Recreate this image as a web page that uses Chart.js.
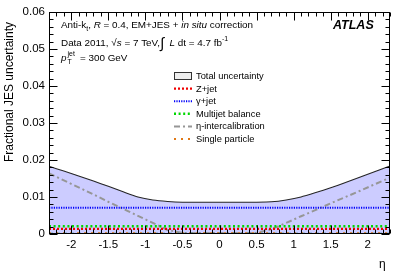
<!DOCTYPE html>
<html>
<head>
<meta charset="utf-8">
<script src="https://cdn.jsdelivr.net/npm/chart.js@4.4.1/dist/chart.umd.min.js"></script>
<style>
html,body{margin:0;padding:0;background:#fff;}
canvas{display:block;}
</style>
</head>
<body>
<canvas id="c" width="407" height="276"></canvas>
<script>
// ---- data ----
const etaGrid = [-2.3,-2.1,-1.9,-1.7,-1.5,-1.3,-1.1,-0.9,-0.7,-0.5,-0.3,-0.1,0.1,0.3,0.5,0.7,0.9,1.1,1.3,1.5,1.7,1.9,2.1,2.3];
const totalUnc = [0.0183,0.0170,0.0157,0.0143,0.0129,0.0114,0.0100,0.0092,0.0088,0.0086,0.0086,0.0086,0.0086,0.0086,0.0086,0.0087,0.0092,0.0100,0.0112,0.0125,0.0139,0.0154,0.0169,0.0184];
const zJet = [0.0014,0.0014,0.0014,0.0014,0.0014,0.0014,0.0014,0.0014,0.0014,0.0014,0.0014,0.0014,0.0014,0.0014,0.0014,0.0014,0.0014,0.0014,0.0014,0.0014,0.0014,0.0014,0.0014,0.0014];
const gammaJet = [0.0071,0.0071,0.0071,0.0071,0.0071,0.0071,0.0071,0.0071,0.0071,0.0071,0.0071,0.0071,0.0071,0.0071,0.0071,0.0071,0.0071,0.0071,0.0071,0.0071,0.0071,0.0071,0.0071,0.0071];
const multijet = [0.0021,0.0021,0.0021,0.0021,0.0021,0.0021,0.0021,0.0021,0.0021,0.0021,0.0021,0.0021,0.0021,0.0021,0.0021,0.0021,0.0021,0.0021,0.0021,0.0021,0.0021,0.0021,0.0021,0.0021];
const etaIntercal = [0.0164,0.0145,0.0126,0.0107,0.0087,0.0068,0.0049,0.0030,0.0011,0.0003,0.0003,0.0003,0.0003,0.0003,0.0003,0.0013,0.0030,0.0048,0.0065,0.0083,0.0100,0.0117,0.0135,0.0152];
const singleParticle = [0.0002,0.0002,0.0002,0.0002,0.0002,0.0002,0.0002,0.0002,0.0002,0.0002,0.0002,0.0002,0.0002,0.0002,0.0002,0.0002,0.0002,0.0002,0.0002,0.0002,0.0002,0.0002,0.0002,0.0002];
const otherTerm = [0.00005,0.00005,0.00005,0.00005,0.00005,0.00005,0.00005,0.00005,0.00005,0.00005,0.00005,0.00005,0.00005,0.00005,0.00005,0.00005,0.00005,0.00005,0.00005,0.00005,0.00005,0.00005,0.00005,0.00005];
const xTickVals = [-2,-1.5,-1,-0.5,0,0.5,1,1.5,2];
const xTickLabels = ["-2","-1.5","-1","-0.5","0","0.5","1","1.5","2"];
const yTickVals = [0,0.01,0.02,0.03,0.04,0.05,0.06];
const yTickLabels = ["0","0.01","0.02","0.03","0.04","0.05","0.06"];
const legendLabels = ["Total uncertainty","Z+jet","\u03b3+jet","Multijet balance","\u03b7-intercalibration","Single particle"];

const FONT = "'Liberation Sans', Arial, Helvetica, sans-serif";
const pts = arr => etaGrid.map((x,i)=>({x:x, y:arr[i]}));

const datasets = [
  {label:legendLabels[0], data:pts(totalUnc), borderColor:'#262626', borderWidth:1.1, backgroundColor:'rgb(204,204,255)', fill:'origin', order:10, tension:0.2, legendBox:true},
  {label:legendLabels[1], data:pts(zJet), borderColor:'rgb(240,0,0)', borderWidth:2.2, borderDash:[2,2], fill:false, order:4},
  {label:legendLabels[2], data:pts(gammaJet), borderColor:'rgb(0,0,250)', borderWidth:1.9, borderDash:[1.2,1.2], fill:false, order:5},
  {label:legendLabels[3], data:pts(multijet), borderColor:'rgb(0,215,0)', borderWidth:2.6, borderDash:[2,2.6], fill:false, order:3},
  {label:legendLabels[4], data:pts(etaIntercal), borderColor:'rgb(150,150,150)', borderWidth:2, borderDash:[6,3,2,3], fill:false, order:6},
  {label:legendLabels[5], data:pts(singleParticle), borderColor:'rgb(225,120,20)', borderWidth:2.2, borderDash:[2,5], fill:false, order:1},
  {label:'', data:pts(otherTerm), borderColor:'rgb(20,130,130)', borderWidth:2.2, borderDash:[4,3], fill:false, order:2, noLegend:true}
];

function drawRich(ctx, x, y, segs, baseSize){
  let cx = x;
  for (const s of segs){
    const size = (s.scale||1)*baseSize;
    ctx.font = (s.style||'') + ' ' + size + 'px ' + FONT;
    const dy = (s.dy||0);
    const px = cx + (s.dx||0);
    ctx.fillText(s.t, px, y + dy);
    const w = ctx.measureText(s.t).width;
    if (!s.noAdvance) cx = px + w;
  }
  return cx;
}

const decor = {
  id:'decor',
  afterDatasetsDraw(chart){
    const ctx = chart.ctx, a = chart.chartArea;
    const xs = chart.scales.x, ys = chart.scales.y;
    ctx.save();
    ctx.strokeStyle = '#000';
    ctx.lineWidth = 1;
    const L = Math.round(a.left) + 0.5, R = Math.round(a.right) - 0.5;
    const T = Math.round(a.top) + 0.5, B = Math.round(a.bottom) - 0.5;
    ctx.beginPath();
    for (let k = -23; k <= 23; k++){
      const v = k/10;
      const px = Math.round(xs.getPixelForValue(v)) + 0.5;
      const major = (k % 5 === 0);
      const len = major ? 8 : 4;
      ctx.moveTo(px, B); ctx.lineTo(px, B - len);
      ctx.moveTo(px, T); ctx.lineTo(px, T + len);
    }
    for (let k = 0; k <= 30; k++){
      const v = k*0.002;
      const py = Math.round(ys.getPixelForValue(v)) + 0.5;
      const major = (k % 5 === 0);
      const len = major ? 8 : 4;
      ctx.moveTo(L, py); ctx.lineTo(L + len, py);
      ctx.moveTo(R, py); ctx.lineTo(R - len, py);
    }
    ctx.stroke();
    ctx.strokeRect(L, T, R - L, B - T);
    ctx.restore();
  },
  afterDraw(chart){
    const ctx = chart.ctx;
    ctx.save();
    ctx.fillStyle = '#000';
    ctx.textBaseline = 'alphabetic';
    ctx.textAlign = 'left';
    // y-axis title
    ctx.save();
    ctx.translate(12.5, 92);
    ctx.rotate(-Math.PI/2);
    ctx.textAlign = 'center';
    ctx.font = '12px ' + FONT;
    ctx.fillText('Fractional JES uncertainty', 0, 0);
    ctx.restore();
    // x-axis title
    ctx.font = '12px ' + FONT;
    ctx.fillText('\u03b7', 379, 268);
    // ATLAS
    ctx.font = 'italic bold 12.5px ' + FONT;
    ctx.fillText('ATLAS', 333, 29);
    // annotation lines
    const fs = 9.9;
    drawRich(ctx, 61, 28, [
      {t:'Anti-k'}, {t:'t', scale:0.7, dy:2.5}, {t:', '}, {t:'R', style:'italic'},
      {t:' = 0.4, EM+JES + '}, {t:'in situ', style:'italic'}, {t:' correction'}
    ], fs);
    drawRich(ctx, 61, 45.5, [
      {t:'Data 2011, '}, {t:'\u221a'}, {t:'s', style:'italic'}, {t:' = 7 TeV,'},
      {t:'\u222b', scale:1.5, dy:2}, {t:'  '}, {t:'L', style:'italic'}, {t:' dt = 4.7 fb'}, {t:'-1', scale:0.7, dy:-4.5}
    ], fs);
    drawRich(ctx, 61, 61, [
      {t:'p', style:'italic'}, {t:'jet', scale:0.7, dy:-5.5, dx:1, noAdvance:true}, {t:'T', scale:0.7, dy:3, dx:1}, {t:'   = 300 GeV'}
    ], fs);
    // legend
    const lx0 = 174, lx1 = 192, tx = 196;
    const rows = [76, 88.6, 101.2, 113.8, 126.4, 139];
    let r = 0;
    chart.data.datasets.forEach(ds => {
      if (ds.noLegend) return;
      const y = rows[r++];
      if (ds.legendBox){
        ctx.fillStyle = '#eeeeee';
        ctx.fillRect(lx0, y - 4, lx1 - lx0, 8);
        ctx.strokeStyle = '#333';
        ctx.lineWidth = 1;
        ctx.strokeRect(lx0 + 0.5, y - 3.5, lx1 - lx0 - 1, 7);
      } else {
        ctx.save();
        ctx.strokeStyle = ds.borderColor;
        ctx.lineWidth = ds.borderWidth;
        ctx.setLineDash(ds.borderDash || []);
        ctx.beginPath();
        ctx.moveTo(lx0, y); ctx.lineTo(lx1, y);
        ctx.stroke();
        ctx.restore();
      }
      ctx.fillStyle = '#000';
      ctx.font = '9.3px ' + FONT;
      ctx.textBaseline = 'middle';
      ctx.fillText(ds.label, tx, y + 0.5);
      ctx.textBaseline = 'alphabetic';
    });
    ctx.restore();
  }
};

new Chart(document.getElementById('c'), {
  type:'line',
  data:{datasets:datasets},
  options:{
    responsive:false,
    animation:false,
    events:[],
    layout:{padding:{left:0, right:17, top:12, bottom:0}},
    elements:{point:{radius:0}, line:{borderCapStyle:'butt'}},
    plugins:{legend:{display:false}, tooltip:{enabled:false}},
    scales:{
      x:{
        type:'linear', min:-2.3, max:2.3,
        grid:{display:false, drawTicks:false},
        border:{display:false},
        ticks:{color:'#000', font:{family:FONT, size:11.5}, padding:4, maxRotation:0, autoSkip:false,
          callback:(v, i) => xTickLabels[i]},
        afterBuildTicks:s => { s.ticks = xTickVals.map(v => ({value:v})); },
        afterFit:s => { s.height = 42; }
      },
      y:{
        type:'linear', min:0, max:0.06,
        grid:{display:false, drawTicks:false},
        border:{display:false},
        ticks:{color:'#000', font:{family:FONT, size:11.5}, padding:4,
          callback:(v, i) => yTickLabels[i]},
        afterBuildTicks:s => { s.ticks = yTickVals.map(v => ({value:v})); },
        afterFit:s => { s.width = 49; }
      }
    }
  },
  plugins:[decor]
});
</script>
</body>
</html>
